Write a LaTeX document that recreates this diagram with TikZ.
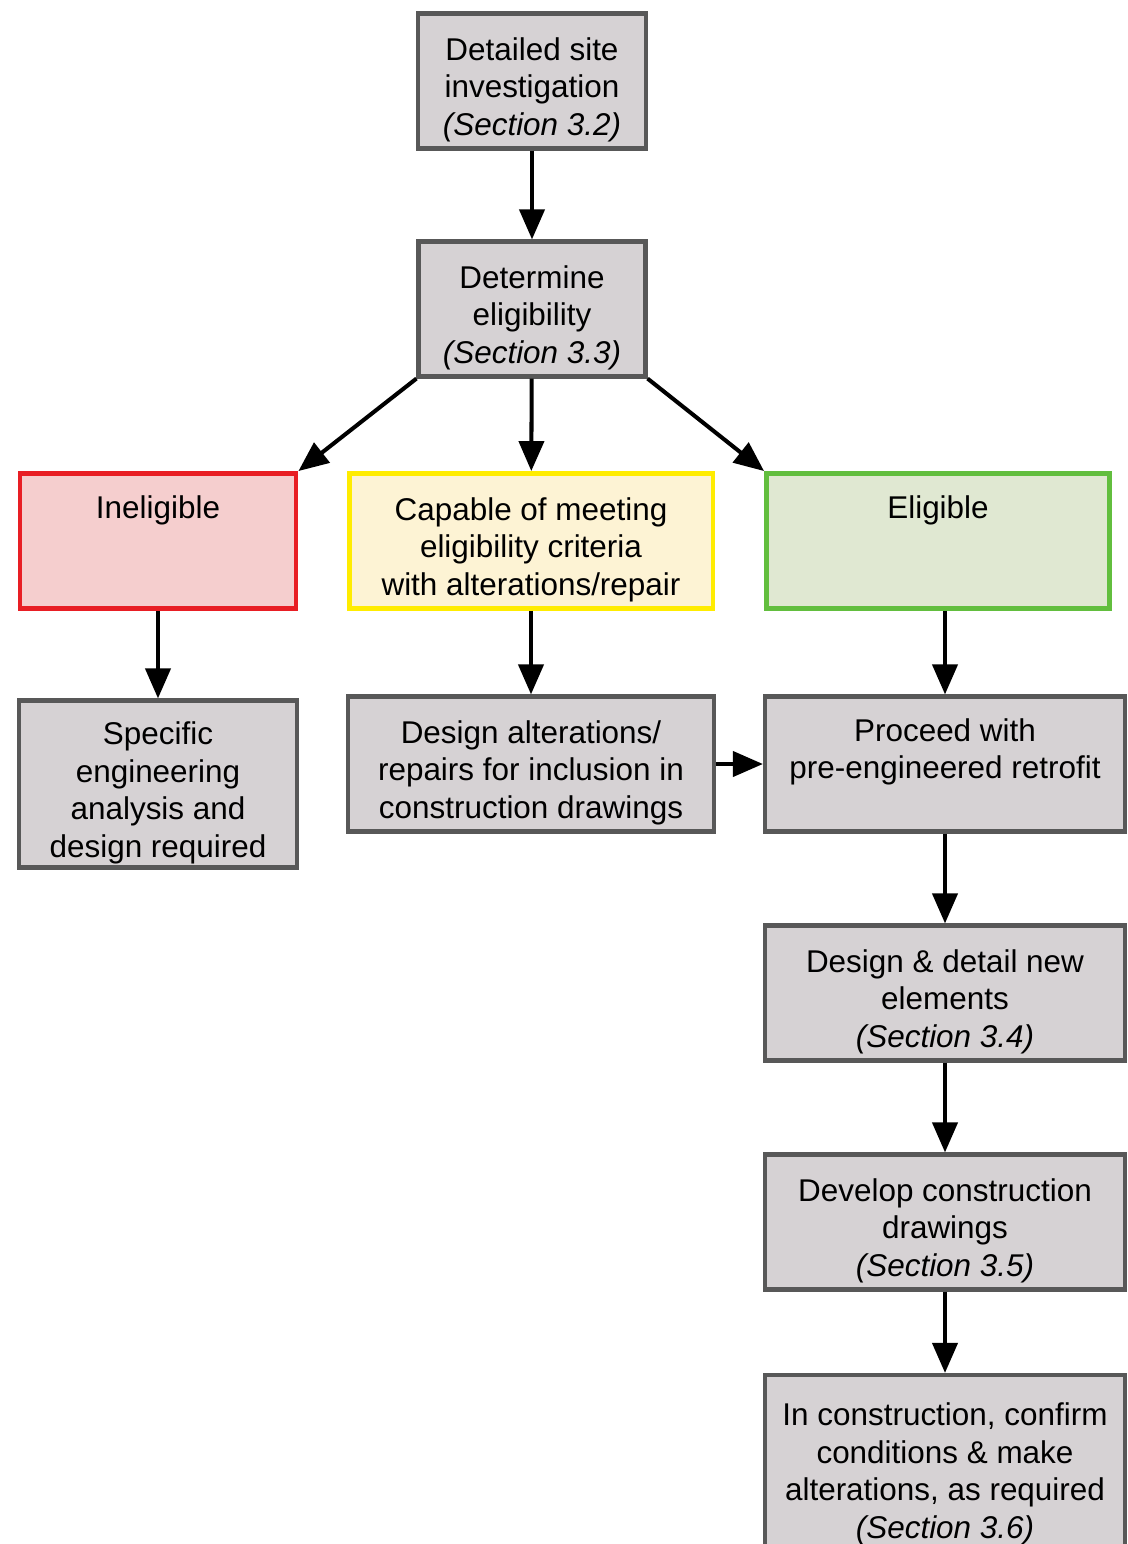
\documentclass[tikz,border=0pt]{standalone}
\usepackage{fontspec}
\setmainfont{Liberation Sans}
\usetikzlibrary{arrows.meta}
\definecolor{boxgray}{RGB}{214,210,212}
\definecolor{edgegray}{RGB}{88,88,88}
\definecolor{inelred}{RGB}{232,30,36}
\definecolor{inelfill}{RGB}{245,206,206}
\definecolor{capyellow}{RGB}{255,236,0}
\definecolor{capfill}{RGB}{253,243,212}
\definecolor{eliggreen}{RGB}{98,190,62}
\definecolor{eligfill}{RGB}{224,232,210}
% taller first line, pushes the text a little down in its box
\newcommand{\lift}{\rule{0pt}{23pt}}
\begin{document}
\begin{tikzpicture}[x=0.02cm,y=-0.02cm,
    box/.style={draw,line width=2.4pt,align=center,minimum height=2.7cm,inner sep=0pt,
        font=\fontsize{17.9}{21.3}\selectfont},
    graybox/.style={box,draw=edgegray,fill=boxgray},
    redbox/.style={box,draw=inelred,fill=inelfill,line width=2.8pt},
    yellowbox/.style={box,draw=capyellow,fill=capfill,line width=2.8pt},
    greenbox/.style={box,draw=eliggreen,fill=eligfill,line width=2.8pt},
    arr/.style={-{Triangle[length=0.6cm,width=0.5cm]},line width=2.3pt}]
    \useasboundingbox (0,0) rectangle (1127,1544);
    % top of the chart
    \node[graybox,minimum width=4.56cm] (site) at (532,81) {\lift Detailed site\\investigation\\\textit{(Section 3.2)}};
    \node[graybox,minimum width=4.54cm] (det) at (532,309) {\lift Determine\\eligibility\\\textit{(Section 3.3)}};
    % three outcomes
    \node[redbox,minimum width=5.52cm] (inel) at (158,541) {\lift Ineligible\\\strut\\\strut};
    \node[yellowbox,minimum width=7.28cm] (cap) at (531,541) {\lift Capable of meeting\\eligibility criteria\\with alterations/repair};
    \node[greenbox,minimum width=6.86cm] (elig) at (938,541) {\lift Eligible\\\strut\\\strut};
    % next steps
    \node[graybox,minimum width=5.56cm,minimum height=3.34cm] (spec) at (158,784) {\lift Specific\\engineering\\analysis and\\design required};
    \node[graybox,minimum width=7.32cm] (dalt) at (531,764) {\lift Design alterations/\\repairs for inclusion in\\construction drawings};
    \node[graybox,minimum width=7.2cm] (proc) at (945,764) {\lift Proceed with\\pre-engineered retrofit\\\strut};
    \node[graybox,minimum width=7.2cm] (ddet) at (945,993) {\lift Design \& detail new\\elements\\\textit{(Section 3.4)}};
    \node[graybox,minimum width=7.2cm] (dev) at (945,1222) {\lift Develop construction\\drawings\\\textit{(Section 3.5)}};
    \node[graybox,minimum width=7.2cm,minimum height=3.6cm] (cons) at (945,1465) {\lift In construction, confirm\\conditions \& make\\alterations, as required\\\textit{(Section 3.6)}};
    % connectors
    \draw[arr] (site) -- (det);
    \draw[arr] (det.south west) -- (inel.north east);
    \draw[arr] (det) -- (cap);
    \draw[arr] (det.south east) -- (elig.north west);
    \draw[arr] (inel) -- (spec);
    \draw[arr] (cap) -- (dalt);
    \draw[arr] (proc.north |- elig.south) -- (proc.north);
    \draw[arr] (dalt) -- (proc);
    \draw[arr] (proc) -- (ddet);
    \draw[arr] (ddet) -- (dev);
    \draw[arr] (dev) -- (cons);
\end{tikzpicture}
\end{document}
